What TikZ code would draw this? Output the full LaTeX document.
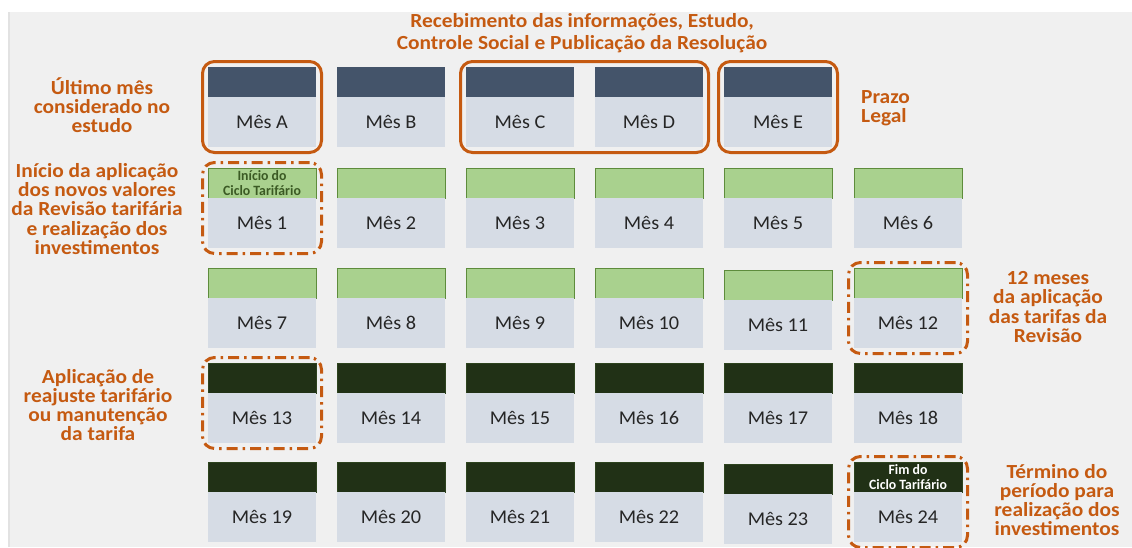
\documentclass[tikz,border=0pt]{standalone}
\usepackage{fontspec}
\setmainfont{Carlito}
\newfontfamily\widefont[FakeStretch=1.07]{Carlito}
\newfontfamily\monthfont[FakeStretch=1.04]{Carlito}
\newfontfamily\narrowfont[FakeStretch=0.97]{Carlito}
\usetikzlibrary{fit}
\definecolor{slate}{HTML}{44546A}
\definecolor{lightbg}{HTML}{D6DCE5}
\definecolor{grn}{HTML}{A9D18E}
\definecolor{grnedge}{HTML}{5E8C3C}
\definecolor{grntext}{HTML}{3B5A24}
\definecolor{dgrn}{HTML}{213116}
\definecolor{org}{HTML}{C55A11}
\definecolor{panel}{HTML}{F0F0F0}
\definecolor{panelline}{HTML}{E2E2E2}
\definecolor{txt}{HTML}{262626}
\tikzset{
 barbase/.style={minimum width=108pt, minimum height=30pt, inner sep=0pt, outer sep=0pt},
 slatebar/.style={barbase, fill=slate},
 greenbar/.style={barbase, fill=grn, draw=grnedge, line width=0.7pt, text=grntext},
 darkbar/.style={barbase, fill=dgrn, draw=dgrn!80!grnedge, line width=0.7pt, text=white},
 lightbox/.style={minimum width=108pt, minimum height=50pt, inner sep=0pt, outer sep=0pt, fill=lightbg, text=txt, font=\monthfont\fontsize{19.5}{22}\selectfont},
 bartext/.style={font=\narrowfont\bfseries\fontsize{14.2}{14.2}\selectfont, align=center},
 solidframe/.style={draw=org, line width=3pt, rounded corners=12pt, inner sep=5.5pt},
 dashframe/.style={draw=org, line width=3pt, rounded corners=12pt, inner sep=5.5pt, dash pattern=on 11pt off 5pt on 2.5pt off 5pt},
 note/.style={text=org, font=\widefont\bfseries\fontsize{20}{19.3}\selectfont, align=center, inner sep=0pt},
}
\newcommand\mesbox[6]{% name, x, ytop, bar style, label, bar text
 \node[#4, anchor=north west] (#1t) at (#2,#3) {#6};
 \node[lightbox, anchor=north] (#1b) at (#1t.south) {#5};
}
\begin{document}
\begin{tikzpicture}[x=1pt,y=-1pt]
\useasboundingbox (0,0) rectangle (1132,547);
\fill[white] (0,0) rectangle (1132,547);
\fill[panel] (8,12) rectangle (1132,547);
\fill[panelline] (8,12) rectangle (10,547);
% row A
\mesbox{mA}{208}{67}{slatebar}{Mês A}{}
\mesbox{mB}{337}{67}{slatebar}{Mês B}{}
\mesbox{mC}{466}{67}{slatebar}{Mês C}{}
\mesbox{mD}{595}{67}{slatebar}{Mês D}{}
\mesbox{mE}{724}{67}{slatebar}{Mês E}{}
% row 1
\mesbox{m1}{208}{168}{greenbar,bartext}{Mês 1}{Início do\\Ciclo Tarifário}
\mesbox{m2}{337}{168}{greenbar}{Mês 2}{}
\mesbox{m3}{466}{168}{greenbar}{Mês 3}{}
\mesbox{m4}{595}{168}{greenbar}{Mês 4}{}
\mesbox{m5}{724}{168}{greenbar}{Mês 5}{}
\mesbox{m6}{854}{168}{greenbar}{Mês 6}{}
% row 2
\mesbox{m7}{208}{268}{greenbar}{Mês 7}{}
\mesbox{m8}{337}{268}{greenbar}{Mês 8}{}
\mesbox{m9}{466}{268}{greenbar}{Mês 9}{}
\mesbox{m10}{595}{268}{greenbar}{Mês 10}{}
\mesbox{m11}{724}{270}{greenbar}{Mês 11}{}
\mesbox{m12}{854}{268}{greenbar}{Mês 12}{}
% row 3
\mesbox{m13}{208}{363}{darkbar}{Mês 13}{}
\mesbox{m14}{337}{363}{darkbar}{Mês 14}{}
\mesbox{m15}{466}{363}{darkbar}{Mês 15}{}
\mesbox{m16}{595}{363}{darkbar}{Mês 16}{}
\mesbox{m17}{724}{363}{darkbar}{Mês 17}{}
\mesbox{m18}{854}{363}{darkbar}{Mês 18}{}
% row 4
\mesbox{m19}{208}{462}{darkbar}{Mês 19}{}
\mesbox{m20}{337}{462}{darkbar}{Mês 20}{}
\mesbox{m21}{466}{462}{darkbar}{Mês 21}{}
\mesbox{m22}{595}{462}{darkbar}{Mês 22}{}
\mesbox{m23}{724}{464}{darkbar}{Mês 23}{}
\mesbox{m24}{854}{462}{darkbar,bartext}{Mês 24}{Fim do\\Ciclo Tarifário}
% frames
\node[solidframe, fit=(mAt)(mAb)] (fA) {};
\node[solidframe, fit=(mCt)(mDb)] (fCD) {};
\node[solidframe, fit=(mEt)(mEb)] (fE) {};
\node[dashframe, fit=(m1t)(m1b)] (f1) {};
\node[dashframe, fit=(m12t)(m12b)] (f12) {};
\node[dashframe, fit=(m13t)(m13b)] (f13) {};
\node[dashframe, fit=(m24t)(m24b)] (f24) {};
% notes
\node[note, font=\widefont\bfseries\fontsize{20}{22}\selectfont] (title) at (582,33) {Recebimento das informações, Estudo,\\Controle Social e Publicação da Resolução};
\node[note] (nA) at (102,105) {Último mês\\considerado no\\estudo};
\node[note, align=left, anchor=west] (nE) at (861,108) {Prazo\\Legal};
\node[note] (n1) at (97,209) {Início da aplicação\\dos novos valores\\da Revisão tarifária\\e realização dos\\investimentos};
\node[note] (n12) at (1048,307) {12 meses\\da aplicação\\das tarifas da\\Revisão};
\node[note] (n13) at (98,405) {Aplicação de\\reajuste tarifário\\ou manutenção\\da tarifa};
\node[note] (n24) at (1057,500) {Término do\\período para\\realização dos\\investimentos};
\end{tikzpicture}
\end{document}
